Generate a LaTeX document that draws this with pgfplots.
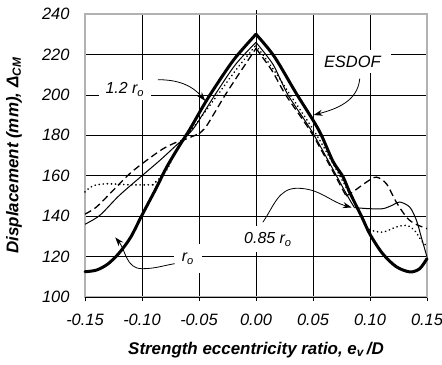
\documentclass[border=0pt]{standalone}
\usepackage{fontspec}
\setmainfont{Liberation Sans}
\usepackage{pgfplots}
\pgfplotsset{compat=1.18}
\usetikzlibrary{arrows.meta}
\begin{document}
\begin{tikzpicture}
\begin{axis}[
  scale only axis, width=342bp, height=283bp,
  xmin=-0.15, xmax=0.15, ymin=100, ymax=240,
  xtick={-0.15,-0.10,-0.05,0,0.05,0.10,0.15},
  xticklabels={-0.15,-0.10,-0.05,0.00,0.05,0.10,0.15},
  ytick={100,120,140,160,180,200,220,240},
  yticklabels={100,120,140,160,180,200,220,240},
  grid=major, major grid style={black, line width=0.6bp},
  axis line style={gray!60, line width=1.3bp},
  tick align=outside, major tick length=4bp,
  xtick pos=lower, ytick pos=left,
  ytick style={draw=none}, xtick style={black, line width=0.6bp},
  tick label style={font=\fontsize{16.5}{19}\selectfont\itshape},
  xticklabel style={yshift=-10bp},
  yticklabel style={xshift=-8bp},
  xlabel={\bfseries\itshape Strength eccentricity ratio, e\textsubscript{v}\,/D},
  ylabel={\bfseries\itshape Displacement (mm), Δ\textsubscript{CM}},
  label style={font=\fontsize{17}{20}\selectfont},
  xlabel style={at={(axis description cs:0.5,-0.1873)}, anchor=center},
  ylabel style={at={(axis description cs:-0.2076,0.5)}, anchor=center},
  clip=false,
]
\coordinate (sw) at (rel axis cs:0,0);
\coordinate (ne) at (rel axis cs:1,1);
\draw[black, line width=0.8bp] (rel axis cs:0,0) -- (rel axis cs:1,0);
\draw[black, line width=0.6bp] (axis cs:0,240) -- ([yshift=4bp]axis cs:0,240);

% labels with white background
\node[fill=white, inner xsep=7bp, inner ysep=3bp, font=\fontsize{16}{19}\selectfont\itshape] at (axis cs:-0.115,202.6) {1.2 r\textsubscript{o}};
\node[fill=white, inner xsep=10bp, inner ysep=6bp, font=\fontsize{16.5}{19}\selectfont\itshape] at (axis cs:0.0845,216.5) {ESDOF};
\node[fill=white, inner xsep=8bp, inner ysep=6bp, font=\fontsize{16}{19}\selectfont\itshape] at (axis cs:0.0105,128.5) {0.85 r\textsubscript{o}};
\node[fill=white, inner xsep=8bp, inner ysep=9bp, font=\fontsize{16}{19}\selectfont\itshape] at (axis cs:-0.0597,119) {r\textsubscript{o}};

% dashed curve
\addplot[black, line width=1.3bp, dash pattern=on 7bp off 4bp, smooth, tension=0.5] coordinates {
(-0.15,141) (-0.14,144.5) (-0.1254,152.7) (-0.1108,161) (-0.0962,167.5) (-0.0816,173.3) (-0.07,176.5) (-0.062,178) (-0.05,180.8)};
\addplot[black, line width=1.3bp, dash pattern=on 7bp off 4bp, smooth, tension=0.4] coordinates {
(-0.05,180.8) (-0.0435,184.5) (-0.0275,199.5) (-0.013,212) (0,223)};
\addplot[black, line width=1.3bp, dash pattern=on 7bp off 4bp, smooth, tension=0.4] coordinates {
(0,223) (0.014,212) (0.026,200) (0.05,180) (0.079,150)};
\addplot[black, line width=1.3bp, dash pattern=on 7bp off 4bp, smooth, tension=0.5] coordinates {
(0.079,150) (0.085,152) (0.0968,156.8) (0.1056,159.3) (0.1144,156) (0.123,147) (0.132,139.5) (0.139,136.3) (0.15,133.8)};

% dotted curve
\addplot[black, line width=1.8bp, dash pattern=on 0.1bp off 4bp, line cap=round, smooth, tension=0.5] coordinates {
(-0.15,152) (-0.143,155) (-0.131,156) (-0.11,155.5) (-0.0904,155.5)};
\addplot[black, line width=1.8bp, dash pattern=on 0.1bp off 4bp, line cap=round, smooth, tension=0.4] coordinates {
(-0.0904,155.5) (-0.0786,162.6) (-0.0713,170.8) (-0.062,179) (-0.052,186) (-0.033,200.5) (-0.016,213.5) (0,224.5)};
\addplot[black, line width=1.8bp, dash pattern=on 0.1bp off 4bp, line cap=round, smooth, tension=0.4] coordinates {
(0,224.5) (0.016,212) (0.03,200) (0.0544,179) (0.0822,151) (0.0968,134.6)};
\addplot[black, line width=1.8bp, dash pattern=on 0.1bp off 4bp, line cap=round, smooth, tension=0.5] coordinates {
(0.0968,134.6) (0.1012,133) (0.1114,132.1) (0.123,134.6) (0.132,135.4) (0.139,133) (0.145,128) (0.15,125)};

% thin solid curve (0.85 r_o)
\addplot[black, line width=1bp, smooth, tension=0.5] coordinates {
(-0.15,136) (-0.137,140.4) (-0.12,150.2) (-0.1,160) (-0.0845,167.5) (-0.07,175) (-0.063,178.5) (-0.054,184) (-0.036,200) (-0.018,215) (0,226)};
\addplot[black, line width=1bp, smooth, tension=0.4] coordinates {
(0,226) (0.015,215) (0.028,200) (0.05,181) (0.0793,151) (0.0864,144.2)};
\addplot[black, line width=1bp, smooth, tension=0.5] coordinates {
(0.0864,144.2) (0.0993,143.7) (0.1114,143.7) (0.12,145.5) (0.126,147) (0.1348,144.5) (0.1407,138) (0.145,129.6) (0.15,119.8)};

% thick curve
\addplot[black, line width=3bp, line cap=round, smooth, tension=0.5] coordinates {
(-0.15,112.5) (-0.14,113.3) (-0.13,116.3) (-0.12,121.8) (-0.11,129.5) (-0.1,140.5) (-0.0874,154) (-0.0786,164) (-0.067,175) (-0.058,183) (-0.042,198.5) (-0.02,217) (0,230)};
\addplot[black, line width=3bp, line cap=round, smooth, tension=0.5] coordinates {
(0,230) (0.016,219) (0.035,201) (0.05,187.5) (0.0574,180) (0.0676,167) (0.0763,159.5) (0.082,152) (0.0925,140) (0.1,131) (0.111,121.5) (0.123,115) (0.135,112.4) (0.1436,114) (0.15,119)};

% arrows
\draw[-{Stealth[length=9bp,width=6bp]}, line width=0.8bp] (axis cs:-0.086,207.5) to[out=0,in=130] (axis cs:-0.0445,197);
\draw[-{Stealth[length=9bp,width=6bp]}, line width=0.8bp] (axis cs:0.091,208) to[out=-95,in=15] (axis cs:0.0505,190);
\draw[-{Stealth[length=9bp,width=6bp]}, line width=0.8bp] (axis cs:0.006,137) to[out=55,in=180] (axis cs:0.036,153.8) to[out=0,in=165] (axis cs:0.084,144.3);
\draw[-{Stealth[length=9bp,width=6bp]}, line width=0.8bp] (axis cs:-0.0713,116.5) to[out=190,in=0] (axis cs:-0.1,114) to[out=180,in=-50] (axis cs:-0.1235,129.5);
\end{axis}
\pgfresetboundingbox
\path (sw) ++(-85bp,-68bp) rectangle ([shift={(15bp,14bp)}]ne);
\end{tikzpicture}
\end{document}
